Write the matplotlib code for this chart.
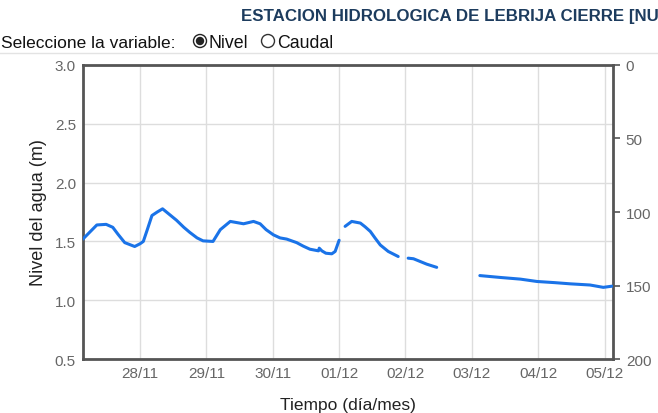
import numpy as np
import matplotlib.pyplot as plt
from matplotlib.patches import Circle
from matplotlib.lines import Line2D

plt.rcParams['font.family'] = ['Liberation Sans', 'DejaVu Sans']

# === Datos: dias desde 28/11 00:00 y nivel (m); None = hueco ===
dias = [-0.86, -0.65, -0.51, -0.41, -0.33, -0.23, -0.08, 0.00, 0.05, 0.11,
        0.18, 0.26, 0.34, 0.42, 0.55, 0.66, 0.75, 0.86, 0.95, 1.10,
        1.21, 1.36, 1.56, 1.71, 1.81, 1.90, 2.01, 2.11, 2.21, 2.36,
        2.46, 2.56, 2.69, 2.70, 2.74, 2.80, 2.89, 2.94, 3.00, 3.04,
        3.09, 3.19, 3.32, 3.39, 3.47, 3.54, 3.62, 3.74, 3.89, 3.96,
        4.04, 4.12, 4.22, 4.32, 4.47, 4.80,
        5.12, 5.43, 5.73, 5.98, 6.25, 6.48, 6.78, 6.98, 7.11]
nivel = [1.52, 1.64, 1.645, 1.62, 1.56, 1.49, 1.457, 1.48, 1.50, 1.60,
         1.72, 1.75, 1.777, 1.74, 1.68, 1.62, 1.577, 1.53, 1.505, 1.50,
         1.60, 1.67, 1.65, 1.67, 1.65, 1.60, 1.556, 1.53, 1.52, 1.49,
         1.46, 1.434, 1.42, 1.443, 1.42, 1.40, 1.395, 1.415, 1.51, None,
         1.628, 1.67, 1.656, 1.625, 1.585, 1.53, 1.47, 1.415, 1.372, None,
         1.358, 1.353, 1.33, 1.307, 1.28, None,
         1.21, 1.194, 1.18, 1.16, 1.15, 1.14, 1.13, 1.11, 1.12]

etiquetas_x = ["28/11", "29/11", "30/11", "01/12", "02/12", "03/12", "04/12", "05/12"]
ticks_izq = [0.5, 1.0, 1.5, 2.0, 2.5, 3.0]
ticks_der = [0, 50, 100, 150, 200]

nivel = np.array([np.nan if v is None else v for v in nivel])

# === Figura ===
fig = plt.figure(figsize=(6.58, 4.14), dpi=100)
ax = fig.add_axes([0.126, 0.130, 0.806, 0.711])

gris_borde = "#555555"
gris_txt = "#666666"

ax.plot(dias, nivel, color="#1a73e8", linewidth=2.2, solid_capstyle="round",
        solid_joinstyle="round", zorder=3)

ax.set_xlim(-0.86, 7.13)
ax.set_ylim(0.5, 3.0)
ax.set_xticks(range(len(etiquetas_x)))
ax.set_xticklabels(etiquetas_x)
ax.set_yticks(ticks_izq)
ax.set_yticklabels([f"{v:.1f}" for v in ticks_izq])
ax.tick_params(axis="both", length=0, labelsize=11, labelcolor=gris_txt, pad=5)
ax.grid(True, color="#dddddd", linewidth=1)
ax.set_axisbelow(True)
for s in ax.spines.values():
    s.set_color(gris_borde)
    s.set_linewidth(2)

ax.set_xlabel("Tiempo (día/mes)", fontsize=12.5, color="#222222", labelpad=12)
ax.set_ylabel("Nivel del agua (m)", fontsize=13, color="#222222", labelpad=6)

# eje derecho (caudal, invertido)
ax2 = ax.twinx()
ax2.set_ylim(200, 0)
ax2.set_yticks(ticks_der)
ax2.tick_params(axis="y", length=5, width=1.2, color=gris_borde,
                labelsize=11, labelcolor=gris_txt, pad=4)
for s in ax2.spines.values():
    s.set_visible(False)

# === Encabezado ===
fig.text(241 / 658, 1 - 17 / 414, "ESTACION HIDROLOGICA DE LEBRIJA CIERRE [NU",
         fontsize=12.2, fontweight="bold", color="#1d3c5e", va="center", ha="left")
fig.text(0.002, 1 - 43 / 414, "Seleccione la variable:", fontsize=12.5,
         color="#111111", va="center", ha="left")
fig.text(208 / 658, 1 - 43 / 414, "Nivel", fontsize=12.8, color="#111111", va="center")
fig.text(277 / 658, 1 - 43 / 414, "Caudal", fontsize=12.8, color="#111111", va="center")

# botones de radio (en pixeles de figura)
ov = fig.add_axes([0, 0, 1, 1], facecolor="none")
ov.set_xlim(0, 658)
ov.set_ylim(414, 0)
ov.axis("off")
ov.add_patch(Circle((200, 42), 6.5, fill=False, edgecolor="#222222", linewidth=1))
ov.add_patch(Circle((200, 42), 3.5, color="#222222"))
ov.add_patch(Circle((268, 42), 6.5, fill=False, edgecolor="#333333", linewidth=1))
ov.add_line(Line2D([0, 658], [54, 54], color="#e3e3e3", linewidth=1))

plt.savefig("out.png", dpi=100)
